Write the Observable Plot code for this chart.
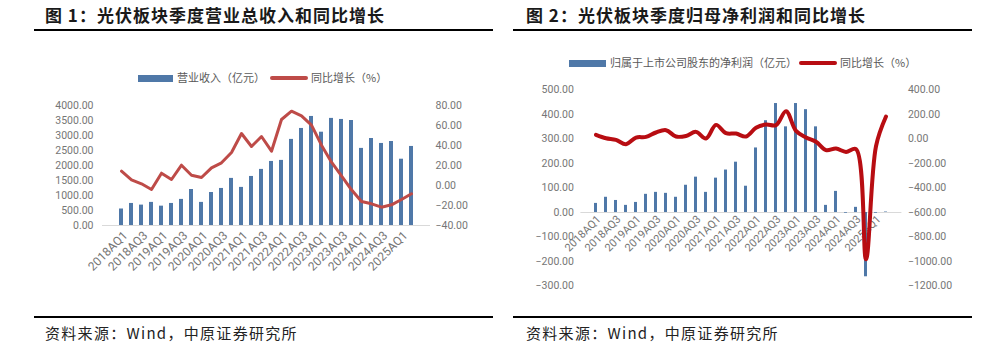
<!DOCTYPE html>
<html><head><meta charset="utf-8">
<script src="https://cdn.jsdelivr.net/npm/d3@7"></script>
<script src="https://cdn.jsdelivr.net/npm/@observablehq/plot@0.6"></script>
<style>
html,body{margin:0;padding:0;background:#fff}
body{width:986px;height:351px;overflow:hidden;position:relative;font-family:"Noto Sans CJK SC","Noto Sans",sans-serif}
.abs{position:absolute}
.title{font-size:17px;font-weight:700;color:#1a1a1a;white-space:nowrap;line-height:1;letter-spacing:1px}
.rule{height:2px;background:#000}
.cap{font-size:15px;color:#222;white-space:nowrap;line-height:1;letter-spacing:1.3px}
.leg{font-size:11px;color:#595959;white-space:nowrap;line-height:1}
.sw{position:absolute}
svg{position:absolute;overflow:visible}
</style></head><body>
<script>
// ---------- data ----------
const quarters = ["2018AQ1","2018AQ2","2018AQ3","2018AQ4","2019AQ1","2019AQ2","2019AQ3","2019AQ4",
  "2020AQ1","2020AQ2","2020AQ3","2020AQ4","2021AQ1","2021AQ2","2021AQ3","2021AQ4",
  "2022AQ1","2022AQ2","2022AQ3","2022AQ4","2023AQ1","2023AQ2","2023AQ3","2023AQ4",
  "2024AQ1","2024AQ2","2024AQ3","2024AQ4","2025AQ1","2025AQ2"];
const xTickLabels = ["2018AQ1","2018AQ3","2019AQ1","2019AQ3","2020AQ1","2020AQ3","2021AQ1","2021AQ3",
  "2022AQ1","2022AQ3","2023AQ1","2023AQ3","2024AQ1","2024AQ3","2025AQ1"];
// Chart 1: revenue (亿元) and YoY (%)
const revenue = [550,735,680,770,645,735,870,1200,770,1100,1235,1570,1270,1635,1870,2135,
  2170,2870,3235,3635,3110,3570,3535,3500,2570,2900,2735,2800,2210,2635];
const revenueYoY = [14.3,5.7,1.7,-4,12.3,6,20.3,10.3,8,17.7,22.7,33,52,39,49,34.3,
  66,74.3,69.7,60.3,40.3,23.3,9.7,-4.3,-16,-18.3,-21.7,-19.3,-14,-8.3];
const revenueTicks = [0,500,1000,1500,2000,2500,3000,3500,4000];
const revenueYoYTicks = [-40,-20,0,20,40,60,80];
// Chart 2: net profit attributable (亿元) and YoY (%)
const netProfit = [37,62,49,29,41,74,82,78,62,111,144,82,140,173,205,107,
  263,374,444,349,444,419,349,29,86,-3,21,-262,-3,2];
const profitYoY = [33,5,-8,-43,11,16,52,71,19,24,57,3,114,46,43,19,
  90,117,112,226,65,11,-24,-92,-79,-106,-84,-982,-60,182];
const profitTicks = [-300,-200,-100,0,100,200,300,400,500];
const profitYoYTicks = [-1200,-1000,-800,-600,-400,-200,0,200,400];

const titles = ["图 1：光伏板块季度营业总收入和同比增长","图 2：光伏板块季度归母净利润和同比增长"];
const source = "资料来源：Wind，中原证券研究所";
const legend1 = ["营业收入（亿元）","同比增长（%）"];
const legend2 = ["归属于上市公司股东的净利润（亿元）","同比增长（%）"];

// ---------- styles ----------
const BAR = "#4F78A8", LINE1 = "#BE4B48", LINE2 = "#B80D12";
const TICK = "#767676";
const fmt = d3.format(".2f");
const axisFont = {fontFamily: "Roboto, sans-serif", fontSize: "10.5px"};

function el(cls, css, text) {
  const d = document.createElement("div");
  d.className = cls; Object.assign(d.style, css); if (text != null) d.textContent = text;
  document.body.appendChild(d); return d;
}
function place(svg, left, top) {
  svg.style.left = left + "px"; svg.style.top = top + "px"; svg.style.background = "transparent";
  document.body.appendChild(svg);
}

// ---------- frame: titles, rules, captions ----------
el("abs title", {left: "45px", top: "6px"}, titles[0]);
el("abs title", {left: "526px", top: "6px"}, titles[1]);
el("abs rule", {left: "34px", top: "29px", width: "459px"});
el("abs rule", {left: "513px", top: "29px", width: "459px"});
el("abs rule", {left: "34px", top: "316px", width: "459px"});
el("abs rule", {left: "513px", top: "316px", width: "459px"});
el("abs cap", {left: "45px", top: "325px"}, source);
el("abs cap", {left: "526px", top: "325px"}, source);

// legends
function legend(x0, y, barW, barText, lineX, lineText, lineColor, lineW) {
  el("sw", {left: x0 + "px", top: (y - 3.5) + "px", width: barW + "px", height: "7px", background: BAR});
  el("abs leg", {left: (x0 + barW + 4) + "px", top: (y - 6) + "px"}, barText);
  el("sw", {left: lineX + "px", top: (y - lineW / 2) + "px", width: "38px", height: lineW + "px", background: lineColor, borderRadius: "2px"});
  el("abs leg", {left: (lineX + 41) + "px", top: (y - 6) + "px"}, lineText);
}
legend(138, 78, 35, legend1[0], 270, legend1[1], LINE1, 4);
legend(569, 63, 37, legend2[0], 799, legend2[1], LINE2, 4);

// ---------- chart 1 ----------
const rows1 = quarters.map((q, i) => ({q, rev: revenue[i], yoy: revenueYoY[i]}));
const base1 = {width: 493, height: 260, marginLeft: 102, marginRight: 63, marginTop: 65, marginBottom: 75,
  x: {type: "band", domain: quarters, paddingInner: 0.6, paddingOuter: 0.3, axis: null},
  style: {background: "transparent", overflow: "visible"}};
const c1bars = Plot.plot({
  ...base1,
  y: {domain: [0, 4000], axis: null},
  marks: [
    Plot.barY(rows1, {x: "q", y: "rev", fill: BAR}),
    Plot.ruleY([0], {stroke: "#d9d9d9", strokeWidth: 1}),
    Plot.axisY(revenueTicks, {anchor: "left", label: null, tickSize: 0, tickPadding: 9, tickFormat: fmt, fill: TICK, ...axisFont}),
    Plot.text(xTickLabels, {x: d => d, y: 0, text: d => d, rotate: -45, textAnchor: "end", dx: 4, dy: 8, fill: TICK, fontFamily: "Roboto, sans-serif", fontSize: 12, letterSpacing: "0.8px"})
  ]
});
place(c1bars, 0, 40);
const c1line = Plot.plot({
  ...base1,
  y: {domain: [-40, 80], axis: null},
  marks: [
    Plot.line(rows1, {x: "q", y: "yoy", stroke: LINE1, strokeWidth: 3, strokeLinejoin: "round", strokeLinecap: "round"}),
    Plot.axisY(revenueYoYTicks, {anchor: "right", label: null, tickSize: 0, tickPadding: 5, tickFormat: fmt, fill: TICK, ...axisFont})
  ]
});
place(c1line, 0, 40);

// ---------- chart 2 ----------
const rows2 = quarters.map((q, i) => ({q, np: netProfit[i], yoy: profitYoY[i]}));
const base2 = {width: 486, height: 260, marginLeft: 80.4, marginRight: 84.6, marginTop: 49.3, marginBottom: 14.4,
  x: {type: "band", domain: quarters, paddingInner: 0.66, paddingOuter: 0.33, axis: null},
  style: {background: "transparent", overflow: "visible"}};
const c2bars = Plot.plot({
  ...base2,
  y: {domain: [-300, 500], axis: null},
  marks: [
    Plot.ruleY([0], {stroke: "#d9d9d9", strokeWidth: 1}),
    Plot.barY(rows2, {x: "q", y: "np", fill: BAR}),
    Plot.axisY(profitTicks, {anchor: "left", label: null, tickSize: 0, tickPadding: 7, tickFormat: fmt, fill: TICK, ...axisFont}),
    Plot.text(xTickLabels, {x: d => d, y: 0, text: d => d, rotate: -45, textAnchor: "end", dx: 3, dy: 5, fill: TICK, fontFamily: "Roboto, sans-serif", fontSize: 11, letterSpacing: "0.3px"})
  ]
});
place(c2bars, 500, 40);
const c2line = Plot.plot({
  ...base2,
  y: {domain: [-1200, 400], axis: null},
  marks: [
    Plot.line(rows2, {x: "q", y: "yoy", stroke: LINE2, strokeWidth: 4, curve: "catmull-rom", strokeLinejoin: "round", strokeLinecap: "round"}),
    Plot.axisY(profitYoYTicks, {anchor: "right", label: null, tickSize: 0, tickPadding: 6, tickFormat: fmt, fill: TICK, ...axisFont})
  ]
});
place(c2line, 500, 40);
</script>
</body></html>
